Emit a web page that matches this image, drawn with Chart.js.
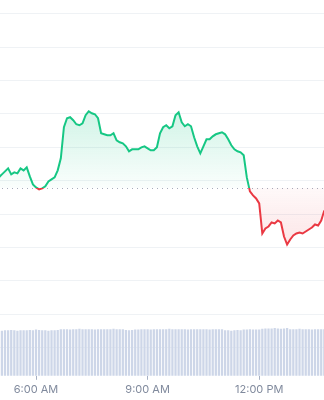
<!DOCTYPE html>
<html><head><meta charset="utf-8">
<script src="https://cdn.jsdelivr.net/npm/chart.js@4.4.1/dist/chart.umd.min.js"></script>
<style>html,body{margin:0;padding:0;background:#fff;overflow:hidden}canvas{display:block}</style>
</head><body>
<canvas id="c" width="324" height="400"></canvas>
<script>
// 5-minute samples starting at 5:00 AM
const START_MINUTE = 300;
const STEP_MINUTES = 5;

const prices = [
  5.10,5.19,5.28,5.37,5.19,5.25,5.22,5.37,5.31,5.40,
  5.13,4.89,4.80,4.74,4.77,4.83,4.98,5.04,5.10,5.31,
  5.67,6.60,6.87,6.90,6.81,6.69,6.66,6.72,6.96,7.08,
  7.02,6.99,6.87,6.42,6.39,6.36,6.36,6.42,6.21,6.15,
  6.12,6.03,5.88,5.94,5.94,5.94,6.00,6.03,5.97,5.91,
  5.91,6.00,6.42,6.60,6.66,6.57,6.63,6.96,7.05,6.75,
  6.63,6.69,6.63,6.30,6.03,5.82,6.03,6.24,6.24,6.33,
  6.39,6.42,6.45,6.39,6.24,6.06,5.94,5.88,5.85,5.76,
  5.10,4.68,4.56,4.47,4.32,3.42,3.57,3.63,3.75,3.72,
  3.81,3.75,3.33,3.09,3.24,3.36,3.42,3.45,3.42,3.48,
  3.54,3.60,3.69,3.66,3.81,4.11
];

const volumes = [
  120,119,120,120,121,120,119,120,120,120,
  121,120,122,121,120,120,119,120,120,121,
  123,123,123,122,123,123,124,123,123,123,
  123,122,123,123,123,123,123,124,123,123,
  123,
  121,120,121,122,122,
  123,123,123,122,123,123,123,123,123,124,
  123,123,123,123,123,122,123,123,123,123,
  123,123,122,123,123,123,123,
  120,120,119,120,121,120,
  122,122,123,122,122,122,
  124,125,125,125,126,125,124,125,126,
  123,123,123,124,123,123,123,122,123,123,123,123
];

const BASELINE = 4.785;           // opening price (dotted reference line)
const tickMinutes = [360, 540, 720];
const tickLabels = ['6:00 AM', '9:00 AM', '12:00 PM'];
const gridValues = [0,1,2,3,4,5,6,7,8,9,10];

const times = prices.map((_, i) => START_MINUTE + i * STEP_MINUTES);

const GREEN = '#16c784';
const RED = '#ea3943';

function frac(area, px) {
  return Math.min(1, Math.max(0, (px - area.top) / (area.bottom - area.top)));
}

function lineGradient(ctx) {
  const chart = ctx.chart, area = chart.chartArea;
  if (!area) return GREEN;
  const b = frac(area, chart.scales.y.getPixelForValue(BASELINE));
  const g = chart.ctx.createLinearGradient(0, area.top, 0, area.bottom);
  g.addColorStop(0, GREEN);
  g.addColorStop(b, GREEN);
  g.addColorStop(Math.min(1, b + 0.0001), RED);
  g.addColorStop(1, RED);
  return g;
}

function areaGradient(ctx) {
  const chart = ctx.chart, area = chart.chartArea;
  if (!area) return 'transparent';
  const y = chart.scales.y;
  const b = frac(area, y.getPixelForValue(BASELINE));
  const hi = frac(area, y.getPixelForValue(Math.max(...prices)));
  const lo = frac(area, y.getPixelForValue(Math.min(...prices)));
  const g = chart.ctx.createLinearGradient(0, area.top, 0, area.bottom);
  g.addColorStop(0, 'rgba(22,199,132,0.22)');
  g.addColorStop(hi, 'rgba(22,199,132,0.20)');
  g.addColorStop(b, 'rgba(22,199,132,0.02)');
  g.addColorStop(Math.min(1, b + 0.0001), 'rgba(234,57,67,0.03)');
  g.addColorStop(lo, 'rgba(234,57,67,0.13)');
  g.addColorStop(1, 'rgba(234,57,67,0.14)');
  return g;
}

const baselinePlugin = {
  id: 'baseline',
  beforeDatasetsDraw(chart) {
    const {ctx, chartArea} = chart;
    const py = Math.round(chart.scales.y.getPixelForValue(BASELINE)) + 0.5;
    ctx.save();
    ctx.strokeStyle = '#a7adbb';
    ctx.lineWidth = 1;
    ctx.setLineDash([1, 4]);
    ctx.beginPath();
    ctx.moveTo(chartArea.left + 2, py);
    ctx.lineTo(chartArea.right, py);
    ctx.stroke();
    ctx.restore();
  }
};

function fmtMinute(m) {
  const i = tickMinutes.indexOf(m);
  return i >= 0 ? tickLabels[i] : '';
}

new Chart(document.getElementById('c'), {
  data: {
    datasets: [
      {
        type: 'line',
        label: 'Price',
        data: times.map((t, i) => ({x: t, y: prices[i]})),
        yAxisID: 'y',
        borderColor: lineGradient,
        backgroundColor: areaGradient,
        borderWidth: 2,
        pointRadius: 0,
        tension: 0,
        fill: {target: {value: BASELINE}},
        order: 0
      },
      {
        type: 'bar',
        label: 'Volume',
        data: times.map((t, i) => ({x: t, y: volumes[i]})),
        yAxisID: 'yv',
        backgroundColor: '#cdd6e8',
        barThickness: 1.6,
        order: 1
      }
    ]
  },
  options: {
    responsive: false,
    animation: false,
    devicePixelRatio: 1,
    layout: {padding: {left: 0, right: 0, top: 0, bottom: 1}},
    plugins: {legend: {display: false}, tooltip: {enabled: false}},
    scales: {
      x: {
        type: 'linear',
        min: 301.9,
        max: 824.5,
        offset: false,
        afterBuildTicks: s => { s.ticks = tickMinutes.map(v => ({value: v})); },
        grid: {display: true, offset: false, drawOnChartArea: false, drawTicks: true, tickLength: 4, color: '#a6b0c3'},
        border: {display: false},
        ticks: {
          autoSkip: false, maxRotation: 0, padding: 3,
          color: '#808a9d',
          font: {family: 'Inter', size: 11},
          callback: v => fmtMinute(v)
        }
      },
      y: {
        type: 'linear',
        position: 'left',
        min: -0.84,
        max: 10.41,
        afterBuildTicks: s => { s.ticks = gridValues.map(v => ({value: v})); },
        grid: {color: '#eff2f5', drawTicks: false},
        border: {display: false},
        ticks: {display: false}
      },
      yv: {
        type: 'linear',
        display: false,
        min: 0,
        max: 1000
      }
    }
  },
  plugins: [baselinePlugin]
});
</script>
</body></html>
